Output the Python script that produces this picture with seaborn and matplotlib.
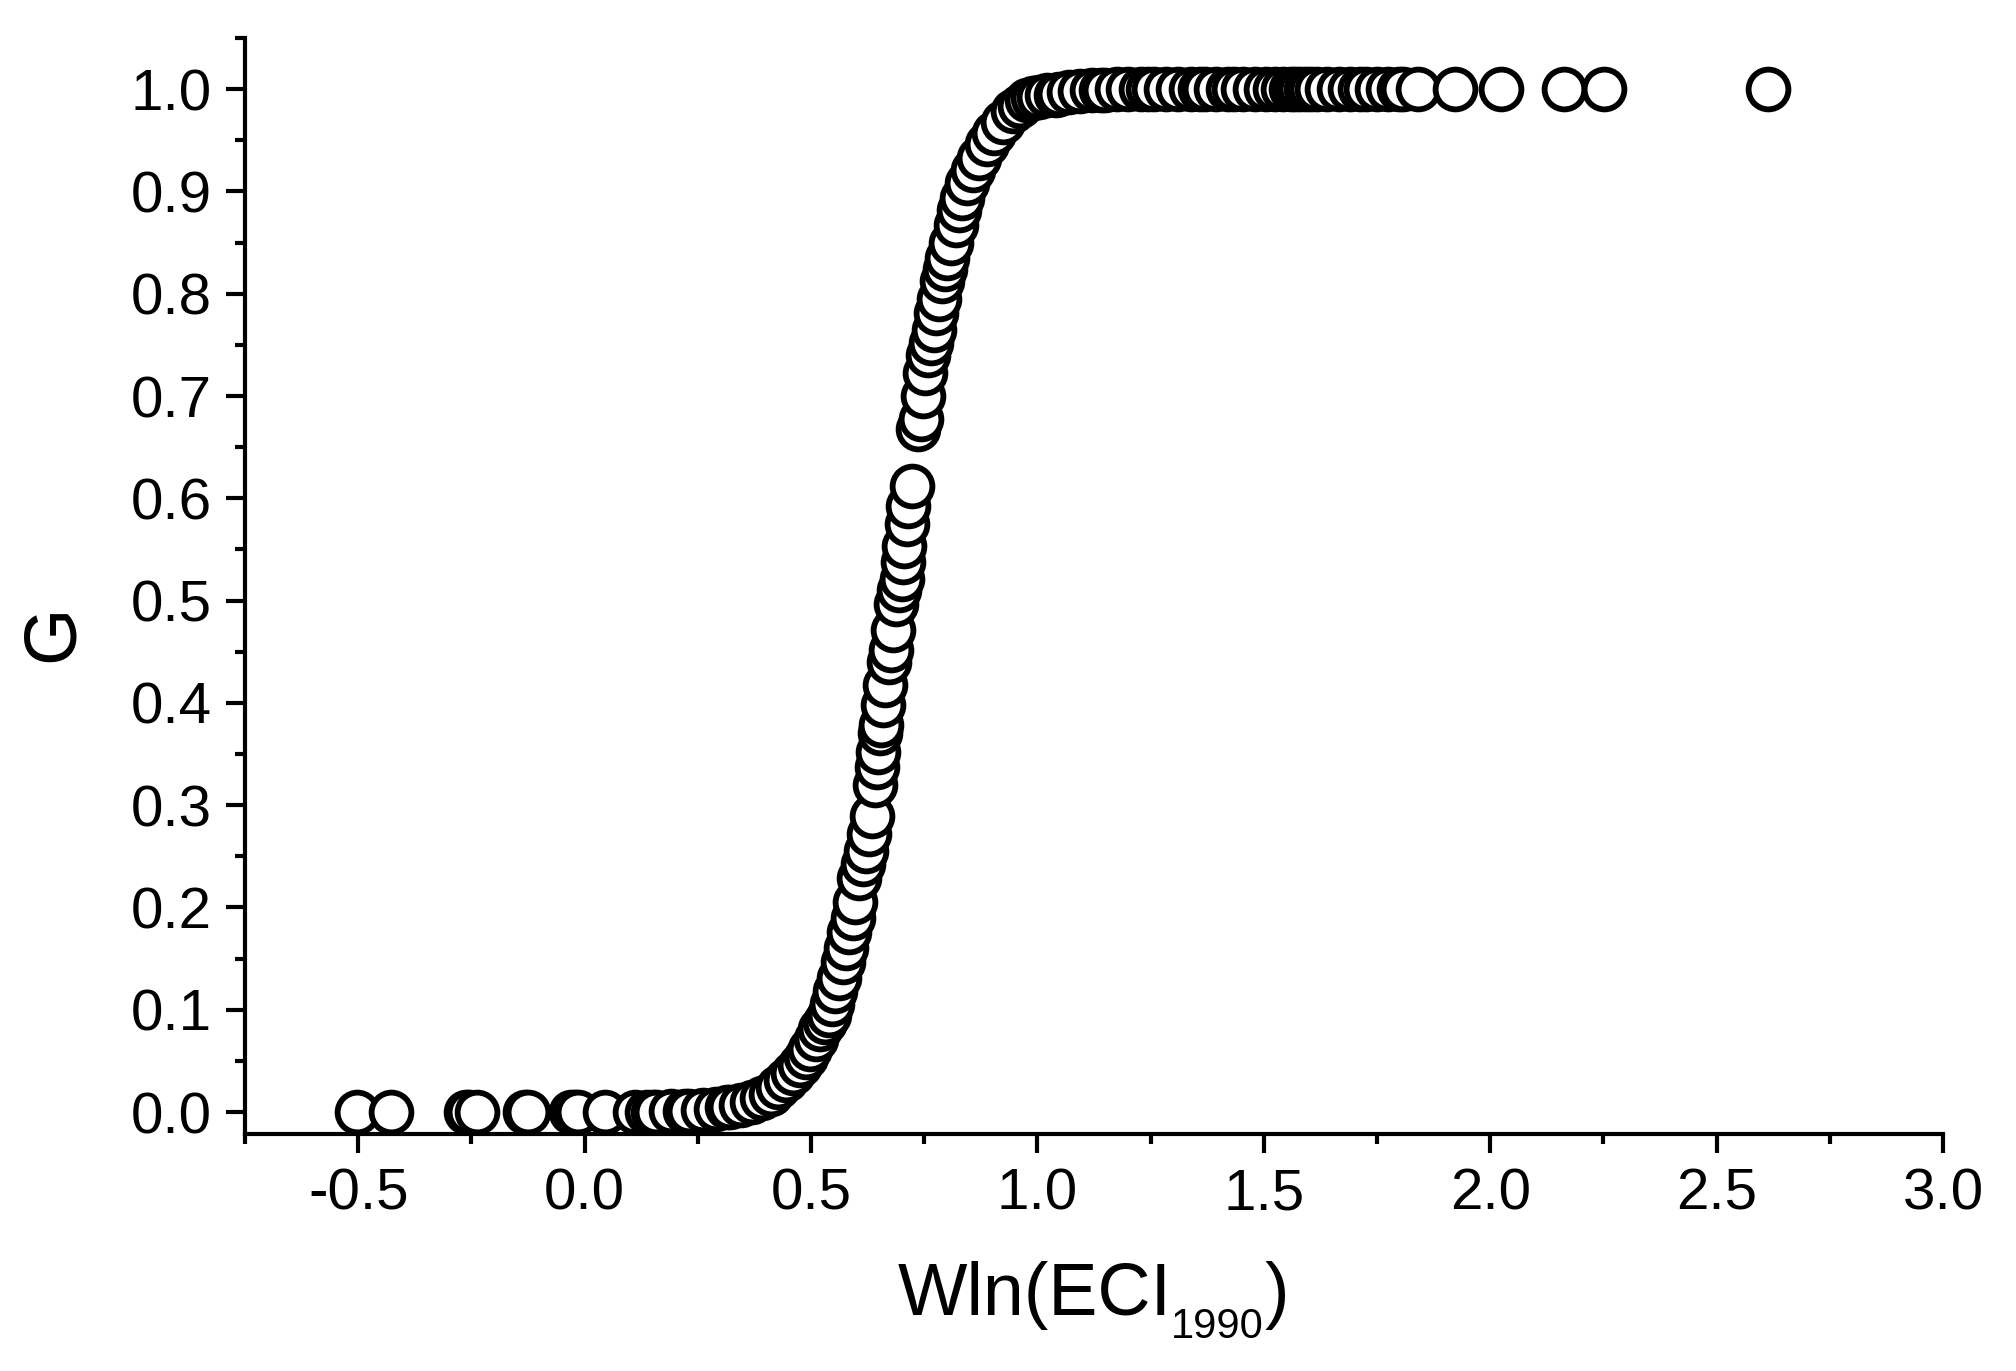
# =========================
# 1. DATA
# =========================
import numpy as np
import pandas as pd
import seaborn as sns
import matplotlib
matplotlib.use("Agg")
import matplotlib.pyplot as plt
from matplotlib.ticker import MultipleLocator, FormatStrFormatter
from matplotlib.transforms import IdentityTransform

wln_eci = [
    -0.503, -0.428, -0.262, -0.255, -0.238, -0.131, -0.125, -0.030, -0.022, -0.015,
    0.046, 0.112, 0.138, 0.152, 0.158, 0.190, 0.222, 0.231, 0.262, 0.290,
    0.315, 0.322, 0.345, 0.370, 0.392, 0.411, 0.428, 0.445, 0.460, 0.475,
    0.488, 0.498, 0.510, 0.520, 0.530, 0.539, 0.546, 0.553, 0.561, 0.570,
    0.577, 0.584, 0.592, 0.598, 0.607, 0.614, 0.621, 0.628, 0.635, 0.641,
    0.645, 0.648, 0.652, 0.655, 0.660, 0.664, 0.672, 0.676, 0.681, 0.688,
    0.694, 0.700, 0.703, 0.706, 0.712, 0.715, 0.723, 0.737, 0.743, 0.747,
    0.752, 0.758, 0.764, 0.771, 0.777, 0.783, 0.790, 0.795, 0.800, 0.810,
    0.820, 0.827, 0.834, 0.845, 0.858, 0.871, 0.888, 0.905, 0.925, 0.947,
    0.962, 0.976, 0.990, 1.004, 1.022, 1.041, 1.048, 1.070, 1.095, 1.120,
    1.140, 1.149, 1.175, 1.200, 1.228, 1.245, 1.257, 1.285, 1.310, 1.340,
    1.358, 1.370, 1.395, 1.420, 1.435, 1.454, 1.480, 1.505, 1.525, 1.542,
    1.560, 1.570, 1.580, 1.594, 1.605, 1.617, 1.640, 1.665, 1.690, 1.713,
    1.726, 1.750, 1.775, 1.798, 1.807, 1.840, 1.922, 2.024, 2.163, 2.251,
    2.613,
]
g_values = [
    0.000, 0.000, 0.000, 0.000, 0.000, 0.000, 0.000, 0.000, 0.000, 0.000,
    0.000, 0.000, 0.000, 0.000, 0.000, 0.001, 0.001, 0.001, 0.002, 0.003,
    0.005, 0.005, 0.007, 0.010, 0.014, 0.018, 0.024, 0.031, 0.038, 0.046,
    0.054, 0.062, 0.071, 0.081, 0.088, 0.095, 0.106, 0.118, 0.131, 0.147,
    0.160, 0.176, 0.190, 0.205, 0.229, 0.242, 0.255, 0.272, 0.289, 0.320,
    0.337, 0.352, 0.371, 0.378, 0.398, 0.417, 0.440, 0.452, 0.471, 0.497,
    0.510, 0.521, 0.538, 0.553, 0.575, 0.592, 0.612, 0.668, 0.678, 0.700,
    0.722, 0.740, 0.752, 0.765, 0.781, 0.795, 0.812, 0.824, 0.835, 0.850,
    0.867, 0.882, 0.894, 0.908, 0.921, 0.933, 0.946, 0.957, 0.968, 0.979,
    0.984, 0.989, 0.991, 0.992, 0.994, 0.994, 0.995, 0.997, 0.998, 0.999,
    0.999, 0.999, 1.000, 1.000, 1.000, 1.000, 1.000, 1.000, 1.000, 1.000,
    1.000, 1.000, 1.000, 1.000, 1.000, 1.000, 1.000, 1.000, 1.000, 1.000,
    1.000, 1.000, 1.000, 1.000, 1.000, 1.000, 1.000, 1.000, 1.000, 1.000,
    1.000, 1.000, 1.000, 1.000, 1.000, 1.000, 1.000, 1.000, 1.000, 1.000,
    1.000,
]

df = pd.DataFrame({"Wln": wln_eci, "G": g_values})

# =========================
# 2. STYLE
# =========================
sns.set_style("ticks")
plt.rcParams["font.family"] = ["Liberation Sans", "DejaVu Sans"]
plt.rcParams["axes.linewidth"] = 3.0
for key in ["text.color", "axes.labelcolor", "axes.edgecolor",
            "xtick.color", "ytick.color", "xtick.labelcolor", "ytick.labelcolor"]:
    plt.rcParams[key] = "black"

fig = plt.figure(figsize=(20.16, 13.71), dpi=100)
ax = fig.add_axes([245 / 2016, 1 - 1134 / 1371, 1698 / 2016, 1096 / 1371])

# =========================
# 3. SCATTER
# =========================
sns.scatterplot(data=df, x="Wln", y="G", ax=ax, s=820,
                facecolor="white", edgecolor="black", linewidth=4.2,
                zorder=3, clip_on=False)

ax.set_xlim(-0.75, 3.0)
ax.set_ylim(-0.0215, 1.05)
ax.xaxis.set_major_locator(MultipleLocator(0.5))
ax.xaxis.set_minor_locator(MultipleLocator(0.25))
ax.yaxis.set_major_locator(MultipleLocator(0.1))
ax.yaxis.set_minor_locator(MultipleLocator(0.05))
ax.xaxis.set_major_formatter(FormatStrFormatter("%.1f"))
ax.yaxis.set_major_formatter(FormatStrFormatter("%.1f"))
ax.set_yticks(np.arange(0, 1.01, 0.1))

ax.tick_params(which="major", direction="out", length=14, width=3.0,
               labelsize=42, color="black")
ax.tick_params(which="minor", direction="out", length=7, width=3.0, color="black")
ax.tick_params(axis="x", which="major", pad=10)
ax.tick_params(axis="y", which="major", pad=10)
sns.despine(ax=ax)
ax.set_xlabel("")
ax.set_ylabel("")

# =========================
# 4. AXIS LABELS
# =========================
fig.text(53 / 2016, 1 - 633 / 1371, "G", rotation=90, ha="center",
         va="center", fontsize=53)

# x label with a smaller subscript, placed piece by piece in pixels
fig.canvas.draw()
r = fig.canvas.get_renderer()
parts = [("Wln(ECI", 53, 56), ("1990", 30, 33), (")", 53, 56)]
widths = []
for txt, size, base in parts:
    t = fig.text(0, 0, txt, fontsize=size)
    widths.append(t.get_window_extent(r).width)
    t.remove()
x0 = 1093 - sum(widths) / 2
for (txt, size, base), w in zip(parts, widths):
    fig.text(x0, base, txt, fontsize=size, ha="left", va="baseline",
             transform=IdentityTransform())
    x0 += w

# =========================
# 5. SAVE
# =========================
fig.savefig("out.png", dpi=100)
